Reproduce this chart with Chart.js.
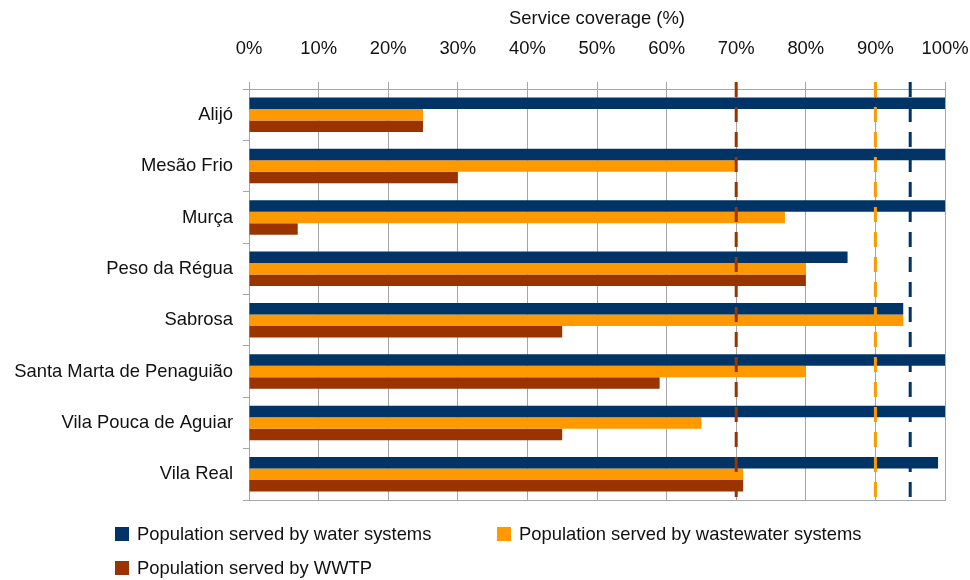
<!DOCTYPE html>
<html>
<head>
<meta charset="utf-8">
<script src="https://cdn.jsdelivr.net/npm/chart.js@4"></script>
<style>
  html, body { margin: 0; padding: 0; background: #fff; }
  #wrap { position: relative; width: 970px; height: 580px; }
  #legend { position: absolute; left: 115px; top: 523px; width: 820px;
    font-family: 'Liberation Sans', Arial, sans-serif; font-size: 18.4px; color: #111; }
  .lg { position: absolute; white-space: nowrap; display: flex; align-items: center; }
  .lg span.box { display: inline-block; width: 14px; height: 14px; margin-right: 8px; }
</style>
</head>
<body>
<div id="wrap">
  <canvas id="chart" width="970" height="580"></canvas>
  <div id="legend"></div>
</div>
<script>
const categories = ['Alijó', 'Mesão Frio', 'Murça', 'Peso da Régua', 'Sabrosa',
  'Santa Marta de Penaguião', 'Vila Pouca de Aguiar', 'Vila Real'];
const seriesNames = ['Population served by water systems',
  'Population served by wastewater systems', 'Population served by WWTP'];
const waterValues = [100, 100, 100, 86, 94, 100, 100, 99];
const wastewaterValues = [25, 70, 77, 80, 94, 80, 65, 71];
const wwtpValues = [25, 30, 7, 80, 45, 59, 45, 71];
const xTicks = [0, 10, 20, 30, 40, 50, 60, 70, 80, 90, 100];
const targets = [70, 90, 95];

const colors = ['#003366', '#FF9900', '#993300'];
const FONT = "'Liberation Sans', Arial, sans-serif";
const FSIZE = 18.4;

// dashed target lines, drawn through the x scale
const targetLines = {
  id: 'targetLines',
  afterDatasetsDraw(chart) {
    const { ctx, chartArea, scales } = chart;
    const lineColors = [colors[2], colors[1], colors[0]];
    ctx.save();
    ctx.lineWidth = 3;
    ctx.setLineDash([15, 10]);
    targets.forEach((t, i) => {
      const x = scales.x.getPixelForValue(t);
      ctx.strokeStyle = lineColors[i];
      ctx.beginPath();
      ctx.moveTo(x, chartArea.top - 7);
      ctx.lineTo(x, chartArea.bottom);
      ctx.stroke();
    });
    ctx.restore();
  }
};

new Chart(document.getElementById('chart'), {
  type: 'bar',
  data: {
    labels: categories,
    datasets: [waterValues, wastewaterValues, wwtpValues].map((vals, i) => ({
      label: seriesNames[i],
      data: vals,
      backgroundColor: colors[i],
      borderWidth: 0,
      barPercentage: 1,
      categoryPercentage: 0.67
    }))
  },
  options: {
    indexAxis: 'y',
    responsive: false,
    animation: false,
    layout: { padding: { left: 0, right: 25, top: 0, bottom: 80 } },
    plugins: { legend: { display: false }, tooltip: { enabled: false } },
    scales: {
      x: {
        position: 'top',
        min: 0, max: 100,
        afterBuildTicks(scale) { scale.ticks = xTicks.map(v => ({ value: v })); },
        afterFit(scale) {
          scale.height = 89;
          scale.paddingLeft = 0;
          scale.paddingRight = 0;
        },
        ticks: {
          callback: v => v + '%',
          color: '#111',
          font: { family: FONT, size: FSIZE },
          padding: 22
        },
        grid: { color: '#a6a6a6', lineWidth: 1, tickLength: 7 },
        border: { color: '#a6a6a6' },
        title: {
          display: true,
          text: 'Service coverage (%)',
          color: '#111',
          font: { family: FONT, size: FSIZE },
          padding: { top: 8, bottom: 6 }
        }
      },
      x2: {
        position: 'bottom',
        axis: 'x',
        min: 0, max: 100,
        ticks: { display: false },
        grid: { display: false },
        border: { color: '#a6a6a6' },
        afterFit(scale) { scale.height = 0; }
      },
      y: {
        afterFit(scale) { scale.width = 249; },
        ticks: {
          color: '#111',
          font: { family: FONT, size: FSIZE },
          padding: 10
        },
        grid: { drawOnChartArea: false, color: '#a6a6a6', tickLength: 6, offset: true },
        border: { color: '#a6a6a6' }
      }
    }
  },
  plugins: [targetLines]
});

// legend in two columns as in the original
const legendPos = [[0, 0], [382, 0], [0, 34]];
const legend = document.getElementById('legend');
seriesNames.forEach((name, i) => {
  const d = document.createElement('div');
  d.className = 'lg';
  d.style.left = legendPos[i][0] + 'px';
  d.style.top = legendPos[i][1] + 'px';
  d.innerHTML = '<span class="box" style="background:' + colors[i] + '"></span>' + name;
  legend.appendChild(d);
});
</script>
</body>
</html>
